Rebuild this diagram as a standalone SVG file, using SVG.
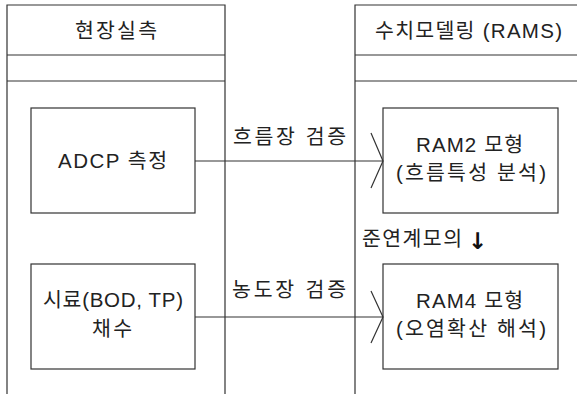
<svg xmlns="http://www.w3.org/2000/svg" width="577" height="394" viewBox="0 0 577 394">
<style>
.ln{fill:none;stroke:#333;stroke-width:1.2}
.bx{fill:#fff;stroke:#333;stroke-width:1.2}
.t{font-family:"Liberation Sans","Noto Sans CJK KR",sans-serif;font-size:20.5px;fill:#222}
</style>
<rect width="577" height="394" fill="#fff"/>
<g id="col-field">
<path class="ln" d="M7,394 V5 H225 V394 M7,55 H225 M7,81 H225"/>
<text class="t" x="75" y="38" textLength="82" lengthAdjust="spacing">현장실측</text>
</g>
<g id="col-model">
<path class="ln" d="M355,394 V5 H577 M355,55 H577 M355,81 H577"/>
<text class="t" x="375" y="38" textLength="187" lengthAdjust="spacing">수치모델링 (RAMS)</text>
</g>
<g id="adcp">
<rect class="bx" x="31" y="108" width="164" height="105"/>
<text class="t" x="58" y="168" textLength="109" lengthAdjust="spacing">ADCP 측정</text>
</g>
<g id="sample">
<rect class="bx" x="31" y="264" width="164" height="105"/>
<text class="t" x="43" y="307" textLength="140" lengthAdjust="spacing">시료(BOD, TP)</text>
<text class="t" x="92" y="336" textLength="40" lengthAdjust="spacing">채수</text>
</g>
<g id="ram2">
<rect class="bx" x="383" y="108" width="175" height="105"/>
<text class="t" x="416" y="152" textLength="107" lengthAdjust="spacing">RAM2 모형</text>
<text class="t" x="396" y="180" textLength="150" lengthAdjust="spacing">(흐름특성 분석)</text>
</g>
<g id="ram4">
<rect class="bx" x="383" y="264" width="175" height="105"/>
<text class="t" x="416" y="308" textLength="107" lengthAdjust="spacing">RAM4 모형</text>
<text class="t" x="396" y="336" textLength="150" lengthAdjust="spacing">(오염확산 해석)</text>
</g>
<g id="connectors">
<line class="ln" x1="195" y1="161" x2="383" y2="161"/>
<polyline class="ln" points="371,133 383,161 371,188"/>
<text class="t" x="233" y="144" textLength="113" lengthAdjust="spacing">흐름장 검증</text>
<line class="ln" x1="195" y1="317" x2="383" y2="317"/>
<polyline class="ln" points="371,291 383,317 371,343"/>
<text class="t" x="362" y="246" textLength="100" lengthAdjust="spacing">준연계모의</text>
<text class="t" x="232" y="297" textLength="114" lengthAdjust="spacing">농도장 검증</text>
<text x="468" y="249" style="font-family:'DejaVu Sans',sans-serif;font-size:23px;font-weight:bold;fill:#111">↓</text>
</g>
</svg>
